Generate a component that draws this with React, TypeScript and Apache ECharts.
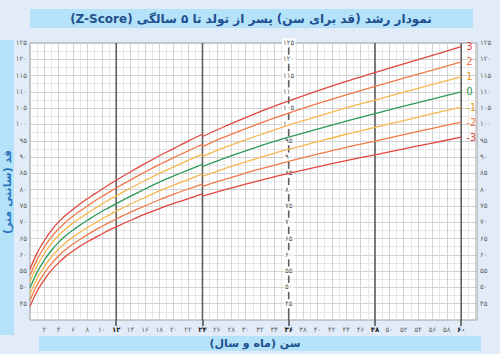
import React, { useEffect, useRef } from 'react';
import * as echarts from 'echarts';

// Age in months (recumbent length 0-24, standing height 24-60)
const lengthMonths = [0, 1, 2, 3, 4, 5, 6, 7, 8, 9, 10, 11, 12, 14, 16, 18, 20, 22, 24];
const heightMonths = [24, 27, 30, 33, 36, 40, 44, 48, 52, 56, 60];

const zLabels = ['3', '2', '1', '0', '-1', '-2', '-3'];
const zColors = ['#e2473d', '#f27a48', '#f6b84e', '#2c9a58', '#f6b84e', '#f27a48', '#e2473d'];
const zLabelColors = ['#e2473d', '#f27a48', '#eda22c', '#2c9a58', '#eda22c', '#f27a48', '#e2473d'];

// Length-for-age (cm), months 0-24
const lenP3 = [55.6, 60.6, 64.4, 67.6, 70.1, 72.2, 74.0, 75.7, 77.2, 78.7, 80.1, 81.5, 82.9, 85.5, 88.0, 90.4, 92.6, 94.9, 97.0];
const lenP2 = [53.7, 58.6, 62.4, 65.5, 68.0, 70.1, 71.9, 73.5, 75.0, 76.5, 77.9, 79.2, 80.5, 83.0, 85.4, 87.7, 89.8, 91.9, 93.9];
const lenP1 = [51.8, 56.7, 60.4, 63.5, 66.0, 68.0, 69.8, 71.3, 72.8, 74.2, 75.6, 76.9, 78.1, 80.5, 82.8, 85.0, 87.0, 89.0, 90.9];
const len0 = [49.9, 54.7, 58.4, 61.4, 63.9, 65.9, 67.6, 69.2, 70.6, 72.0, 73.3, 74.5, 75.7, 78.0, 80.2, 82.3, 84.2, 86.0, 87.8];
const lenM1 = [48.0, 52.8, 56.4, 59.4, 61.8, 63.8, 65.5, 67.0, 68.4, 69.7, 71.0, 72.2, 73.4, 75.6, 77.6, 79.6, 81.4, 83.1, 84.8];
const lenM2 = [46.1, 50.8, 54.4, 57.3, 59.7, 61.7, 63.3, 64.8, 66.2, 67.5, 68.7, 69.9, 71.0, 73.1, 75.0, 76.9, 78.6, 80.2, 81.7];
const lenM3 = [44.2, 48.9, 52.4, 55.3, 57.6, 59.6, 61.2, 62.7, 64.0, 65.2, 66.4, 67.6, 68.6, 70.6, 72.5, 74.2, 75.8, 77.2, 78.7];

// Height-for-age (cm), months 24-60
const htP3 = [96.3, 99.3, 102.1, 104.8, 107.2, 110.3, 113.2, 115.9, 118.6, 121.2, 123.9];
const htP2 = [93.2, 96.1, 98.7, 101.2, 103.5, 106.4, 109.1, 111.7, 114.2, 116.7, 119.2];
const htP1 = [90.2, 92.9, 95.3, 97.6, 99.8, 102.5, 105.1, 107.5, 109.9, 112.3, 114.6];
const ht0 = [87.1, 89.6, 91.9, 94.1, 96.1, 98.6, 101.0, 103.3, 105.6, 107.8, 110.0];
const htM1 = [84.1, 86.4, 88.5, 90.5, 92.4, 94.7, 97.0, 99.1, 101.2, 103.3, 105.3];
const htM2 = [81.0, 83.1, 85.1, 86.9, 88.7, 90.9, 93.0, 94.9, 96.9, 98.8, 100.7];
const htM3 = [78.0, 79.9, 81.7, 83.4, 85.0, 87.0, 88.9, 90.7, 92.5, 94.3, 96.1];

const lengthCurves = [lenP3, lenP2, lenP1, len0, lenM1, lenM2, lenM3];
const heightCurves = [htP3, htP2, htP1, ht0, htM1, htM2, htM3];

// Height scale printed on the 36-month line
const centerScaleMonth = 36;
const centerScaleTicks = [45, 50, 55, 60, 65, 70, 75, 80, 85, 90, 95, 100, 105, 110, 115, 120, 125];

// Bold year lines
const yearLines = [12, 24, 36, 48, 60];

// y-axis extent (cm)
const yMin = 40;
const yMax = 125;

const titleText = 'نمودار رشد (قد برای سن) پسر از تولد تا ۵ سالگی (Z-Score)';
const yName = 'قد (سانتی متر)';
const xName = 'سن (ماه و سال)';

const FA = '۰۱۲۳۴۵۶۷۸۹';
const toFa = (v: number) => String(v).replace(/\d/g, (d) => FA[+d]);
const RLE = '\u202B';
const PDF = '\u202C';
const rtl = (s: string) => RLE + s + PDF;

const FONT = "'DejaVu Sans', 'Noto Sans', sans-serif";

export default function App() {
  const ref = useRef<HTMLDivElement>(null);
  useEffect(() => {
    if (!ref.current) return;
    const chart = echarts.init(ref.current, undefined, { renderer: 'svg' });

    const gLeft = 30;
    const gRight = 23;
    const gTop = 43;
    const gBottom = 34;
    const xMax = 62.2;
    const pxPerMonth = (500 - gLeft - gRight) / xMax;

    const yLabelFmt = (v: number) => (v >= 45 && v % 5 === 0 ? toFa(v) : '');

    const series: any[] = [];

    // bold year lines; the 36-month line also carries the printed height scale
    yearLines.forEach((m) => {
      const isScale = m === centerScaleMonth;
      const pts = isScale
        ? [[m, yMin], ...centerScaleTicks.map((v) => [m, v])]
        : [
            [m, yMin],
            [m, yMax],
          ];
      series.push({
        type: 'line',
        xAxisIndex: 0,
        yAxisIndex: 0,
        data: pts.map((p, k) => ({
          value: p,
          label: { show: isScale && k > 0 },
        })),
        showSymbol: isScale,
        symbol: 'circle',
        symbolSize: 0.01,
        itemStyle: { color: '#5f5f5f' },
        silent: true,
        clip: false,
        z: 4,
        lineStyle: { color: '#5f5f5f', width: 1.6 },
        label: {
          show: false,
          position: 'inside',
          formatter: (p: any) => toFa(p.value[1]),
          fontSize: 7,
          color: '#555',
          fontFamily: FONT,
          backgroundColor: '#ffffff',
          padding: [1, 1],
        },
        labelLayout: { hideOverlap: false },
      });
    });

    lengthCurves.forEach((arr, i) => {
      series.push({
        type: 'line',
        xAxisIndex: 0,
        yAxisIndex: 0,
        data: lengthMonths.map((m, j) => [m, arr[j]]),
        smooth: 0.3,
        showSymbol: false,
        silent: true,
        z: 5,
        lineStyle: { color: zColors[i], width: 1.3 },
      });
    });
    heightCurves.forEach((arr, i) => {
      series.push({
        type: 'line',
        xAxisIndex: 0,
        yAxisIndex: 0,
        data: heightMonths.map((m, j) => [m, arr[j]]),
        smooth: 0.3,
        showSymbol: false,
        silent: true,
        z: 5,
        lineStyle: { color: zColors[i], width: 1.3 },
        endLabel: {
          show: true,
          formatter: () => zLabels[i],
          color: zLabelColors[i],
          fontSize: 10,
          fontFamily: FONT,
          distance: 5,
        },
      });
    });

    chart.setOption({
      animation: false,
      backgroundColor: '#e1ecf8',
      grid: [
        {
          left: gLeft,
          right: gRight,
          top: gTop,
          bottom: gBottom,
          show: true,
          backgroundColor: '#ffffff',
          borderColor: '#9a9a9a',
          borderWidth: 1,
        },
        {
          left: gLeft + 12 * pxPerMonth,
          right: 500 - (gLeft + 60 * pxPerMonth),
          top: gTop,
          bottom: gBottom,
          show: false,
        },
      ],
      xAxis: [
        {
          type: 'value',
          gridIndex: 0,
          min: 0,
          max: xMax,
          interval: 2,
          axisLine: { show: false },
          axisTick: { show: false },
          axisLabel: {
            margin: 6,
            fontSize: 7,
            color: '#666',
            fontFamily: FONT,
            formatter: (v: number) => {
              if (v <= 0 || v > 60 || v % 2 !== 0) return '';
              return v % 12 === 0 ? '{b|' + toFa(v) + '}' : toFa(v);
            },
            rich: { b: { fontSize: 7, fontWeight: 'bold', color: '#222', fontFamily: FONT } },
          },
          splitLine: { show: true, lineStyle: { color: '#c6c6c6', width: 0.8 } },
          minorTick: { show: false, splitNumber: 2 },
          minorSplitLine: { show: true, lineStyle: { color: '#dedede', width: 0.7 } },
        },
        {
          type: 'value',
          gridIndex: 1,
          min: 12,
          max: 60,
          interval: 12,
          axisLine: { show: false },
          axisTick: { show: true, length: 6, lineStyle: { color: '#555', width: 1.6 } },
          axisLabel: { show: false },
          splitLine: { show: false },
        },
      ],
      yAxis: [
        {
          type: 'value',
          gridIndex: 0,
          min: yMin,
          max: yMax,
          interval: 5,
          position: 'left',
          axisLine: { show: false },
          axisTick: { show: false },
          axisLabel: { margin: 3, fontSize: 7, color: '#666', fontFamily: FONT, formatter: yLabelFmt },
          splitLine: { show: true, lineStyle: { color: '#c6c6c6', width: 0.8 } },
          minorTick: { show: false, splitNumber: 2 },
          minorSplitLine: { show: true, lineStyle: { color: '#dedede', width: 0.7 } },
        },
        {
          type: 'value',
          gridIndex: 0,
          min: yMin,
          max: yMax,
          interval: 5,
          position: 'right',
          axisLine: { show: false },
          axisTick: { show: false },
          axisLabel: { margin: 3, fontSize: 7, color: '#666', fontFamily: FONT, formatter: yLabelFmt },
          splitLine: { show: false },
        },
        {
          type: 'value',
          gridIndex: 1,
          min: yMin,
          max: yMax,
          show: false,
        },
      ],
      graphic: [
        { type: 'rect', silent: true, shape: { x: 30, y: 9, width: 443, height: 19 }, style: { fill: '#b4e2f8' } },
        { type: 'rect', silent: true, shape: { x: 0, y: 40, width: 14, height: 295 }, style: { fill: '#b4e2f8' } },
        { type: 'rect', silent: true, shape: { x: 39, y: 336, width: 442, height: 15 }, style: { fill: '#b4e2f8' } },
        {
          type: 'text',
          silent: true,
          x: 251,
          y: 19,
          style: {
            text: rtl(titleText),
            align: 'center',
            verticalAlign: 'middle',
            font: `bold 12px ${FONT}`,
            fill: '#1f4f8f',
          },
        },
        {
          type: 'text',
          silent: true,
          x: 7,
          y: 192,
          rotation: Math.PI / 2,
          style: {
            text: rtl(yName),
            align: 'center',
            verticalAlign: 'middle',
            font: `bold 11px ${FONT}`,
            fill: '#2a74bd',
          },
        },
        {
          type: 'text',
          silent: true,
          x: 255,
          y: 343,
          style: {
            text: rtl(xName),
            align: 'center',
            verticalAlign: 'middle',
            font: `bold 11px ${FONT}`,
            fill: '#1f4f8f',
          },
        },
      ],
      series,
    });

    return () => chart.dispose();
  }, []);

  return (
    <div
      ref={ref}
      style={{ position: 'fixed', left: 0, top: 0, width: 500, height: 354 }}
    />
  );
}
